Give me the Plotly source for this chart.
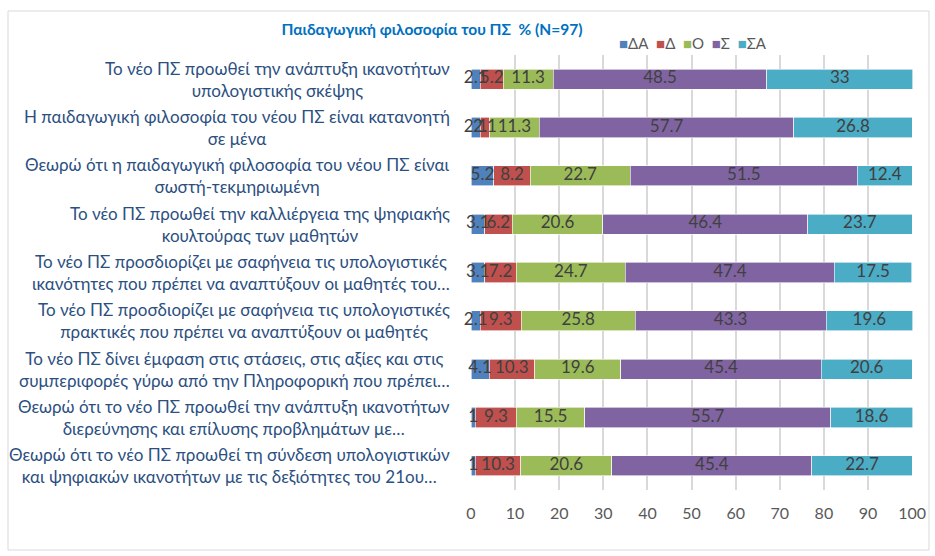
import plotly.graph_objects as go

categories = [
    "Το νέο ΠΣ προωθεί την ανάπτυξη ικανοτήτων<br>υπολογιστικής σκέψης",
    "Η παιδαγωγική φιλοσοφία του νέου ΠΣ είναι κατανοητή<br>σε μένα",
    "Θεωρώ ότι η παιδαγωγική φιλοσοφία του νέου ΠΣ είναι<br>σωστή-τεκμηριωμένη",
    "Το νέο ΠΣ προωθεί την καλλιέργεια της ψηφιακής<br>κουλτούρας των μαθητών",
    "Το νέο ΠΣ προσδιορίζει με σαφήνεια τις υπολογιστικές<br>ικανότητες που πρέπει να αναπτύξουν οι μαθητές του…",
    "Το νέο ΠΣ προσδιορίζει με σαφήνεια τις υπολογιστικές<br>πρακτικές που πρέπει να αναπτύξουν οι μαθητές",
    "Το νέο ΠΣ δίνει έμφαση στις στάσεις, στις αξίες και στις<br>συμπεριφορές γύρω από την Πληροφορική που πρέπει…",
    "Θεωρώ ότι το νέο ΠΣ προωθεί την ανάπτυξη ικανοτήτων<br>διερεύνησης και επίλυσης προβλημάτων με…",
    "Θεωρώ ότι το νέο ΠΣ προωθεί τη σύνδεση υπολογιστικών<br>και ψηφιακών ικανοτήτων με τις δεξιότητες του 21ου…",
]

series_names = ["ΔΑ", "Δ", "Ο", "Σ", "ΣΑ"]
DA = [2.1, 2.1, 5.2, 3.1, 3.1, 2.1, 4.1, 1, 1]
D = [5.2, 2.1, 8.2, 6.2, 7.2, 9.3, 10.3, 9.3, 10.3]
O = [11.3, 11.3, 22.7, 20.6, 24.7, 25.8, 19.6, 15.5, 20.6]
S = [48.5, 57.7, 51.5, 46.4, 47.4, 43.3, 45.4, 55.7, 45.4]
SA = [33, 26.8, 12.4, 23.7, 17.5, 19.6, 20.6, 18.6, 22.7]
series_values = [DA, D, O, S, SA]
colors = ["#4F81BD", "#C0504D", "#9BBB59", "#8064A2", "#4BACC6"]

title_text = "Παιδαγωγική φιλοσοφία του ΠΣ  % (N=97)"
x_ticks = [0, 10, 20, 30, 40, 50, 60, 70, 80, 90, 100]

W, H = 935, 556
ML, MR, MT, MB = 471, 22, 55, 66
PW, PH = W - ML - MR, H - MT - MB
FONT = "Lato"


def px_x(p):
    return (p - ML) / PW


def px_y(p):
    return (H - MB - p) / PH


fig = go.Figure()
for name, vals, col in zip(series_names, series_values, colors):
    fig.add_trace(go.Bar(
        y=categories, x=vals, name=name, orientation="h",
        marker=dict(color=col, line=dict(color="white", width=0.6)),
        showlegend=False, hoverinfo="x+name",
    ))

# data labels drawn above all bars (centred on each stacked segment)
base = [0.0] * len(categories)
for name, vals in zip(series_names, series_values):
    centres = [b + v / 2 for b, v in zip(base, vals)]
    fig.add_trace(go.Scatter(
        x=centres, y=categories, mode="text",
        text=[f"{v:g}" for v in vals], textposition="middle center",
        textfont=dict(family=FONT, size=17, color="#404040"),
        showlegend=False, hoverinfo="skip", cliponaxis=False,
    ))
    base = [b + v for b, v in zip(base, vals)]

annotations = []
for c in categories:
    annotations.append(dict(
        xref="paper", yref="y", x=px_x(452), y=c, text=c,
        xanchor="right", yanchor="middle", align="center", showarrow=False,
        font=dict(family=FONT, size=17, color="#2B4F81"),
    ))

legend_text = "&nbsp;&nbsp;".join(
    f"<span style='color:{col}'>■</span>{n}" for n, col in zip(series_names, colors)
)
annotations.append(dict(
    xref="paper", yref="paper", x=px_x(617), y=px_y(43), text=legend_text,
    xanchor="left", yanchor="middle", showarrow=False,
    font=dict(family=FONT, size=15, color="#595959"),
))

fig.update_layout(
    width=W, height=H,
    margin=dict(l=ML, r=MR, t=MT, b=MB),
    paper_bgcolor="white", plot_bgcolor="white",
    barmode="stack", bargap=0.585,
    title=dict(text=f"<b>{title_text}</b>", x=432 / W, xanchor="center",
               y=1 - 30 / H, yanchor="middle",
               font=dict(family=FONT, size=15.5, color="#0070C0")),
    xaxis=dict(range=[0, 100.2], tickvals=x_ticks, showgrid=True,
               gridcolor="#D9D9D9", gridwidth=1.5, zeroline=False, showline=False,
               ticks="", ticklabelstandoff=12, automargin=False,
               tickfont=dict(family=FONT, size=16, color="#595959")),
    yaxis=dict(autorange="reversed", showticklabels=False, showgrid=False,
               zeroline=False, showline=False, ticks="", automargin=False),
    annotations=annotations,
    shapes=[dict(type="rect", xref="paper", yref="paper",
                 x0=px_x(8), x1=px_x(929), y0=px_y(550), y1=px_y(11),
                 line=dict(color="#D9D9D9", width=1), layer="below")],
)

fig.write_html("out.html", config={"displayModeBar": False},
               post_script="document.body.style.margin='0';")
